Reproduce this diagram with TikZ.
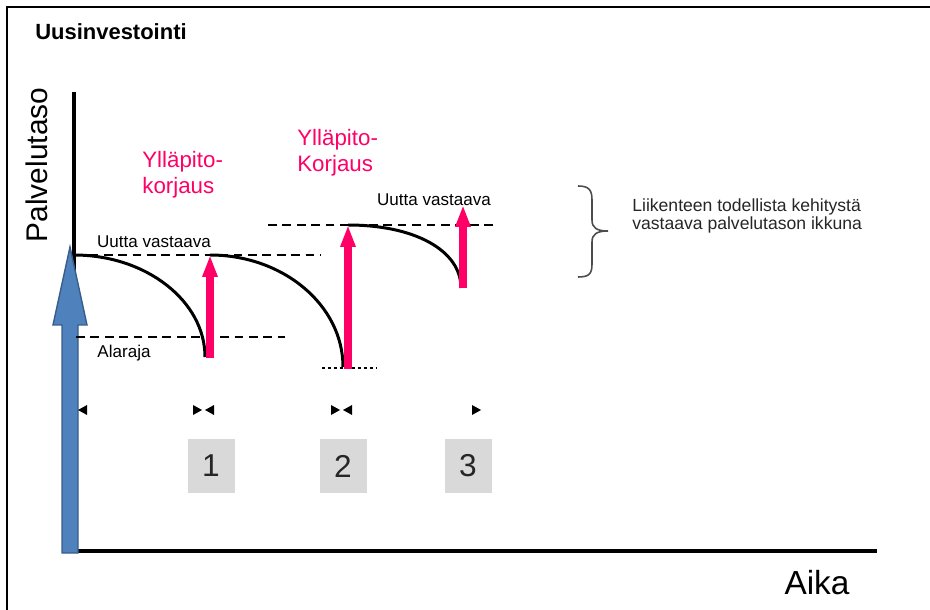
\documentclass[tikz,border=0pt]{standalone}
\usepackage{fontspec}
\setmainfont{Liberation Sans}
\usetikzlibrary{arrows.meta, positioning, calc}

\definecolor{korjaus}{RGB}{255,0,102}
\definecolor{investointi}{RGB}{79,129,189}
\definecolor{investointireuna}{RGB}{56,93,138}
\definecolor{laatikko}{RGB}{217,217,217}

\begin{document}
\begin{tikzpicture}[
        x=0.2mm, y=-0.2mm,
        % Tekstityylit
        otsikko/.style={font=\fontsize{12.5}{15}\selectfont\bfseries},
        akseliteksti/.style={font=\fontsize{19}{22}\selectfont},
        tasoteksti/.style={font=\fontsize{9.7}{11}\selectfont, inner sep=0pt},
        korjausteksti/.style={text=korjaus, align=left, inner sep=0pt, font=\fontsize{12.7}{14.7}\selectfont},
        selite/.style={align=left, inner sep=0pt, font=\fontsize{10}{10.5}\selectfont, text=black!85},
        numerolaatikko/.style={fill=laatikko, minimum width=9.4mm, minimum height=10.6mm, inner sep=0pt, font=\fontsize{18}{20}\selectfont, text=black!85},
        % Viivatyylit
        akseli/.style={line width=2.2pt},
        kayra/.style={line width=1.7pt},
        katko/.style={dash pattern=on 5pt off 3.2pt, line width=1.3pt},
        pisteet/.style={dash pattern=on 1.7pt off 1.7pt, line width=1.2pt},
        korjausnuoli/.style={draw=korjaus, line width=4.6pt, -{Triangle[length=12.5pt, width=8pt]}}
    ]

    \useasboundingbox (0,0) rectangle (930,610);

    % Kehys
    \draw[line width=1.5pt] (7,610) -- (7,7) -- (930,7);

    % Akselit
    \coordinate (ylin) at (74,92);
    \coordinate (origo) at (74,551);
    \coordinate (xloppu) at (877,551);
    \draw[akseli] (ylin) -- (origo);
    \draw[akseli, line width=2.4pt] (origo) -- (xloppu);

    % Uusinvestoinnin nuoli
    \filldraw[fill=investointi, draw=investointireuna, line width=0.8pt]
        (62,553) -- (62,325) -- (53,325) -- (70,247) -- (87,325) -- (78,325) -- (78,553) -- cycle;

    % Tekstit
    \node (uusi) [otsikko] at (111,32) {Uusinvestointi};
    \node (palvelu) [akseliteksti, font=\fontsize{17}{20}\selectfont, rotate=90] at (37,165) {Palvelutaso};
    \node (aika) [akseliteksti] at (817,583) {Aika};

    % Tasorajat
    \draw[katko] (75,255) -- (320,255);
    \draw[katko] (76,337) -- (285,337);
    \draw[katko] (268,225) -- (497,225);
    \draw[pisteet] (322,368) -- (376,368);

    \node (taso1) [tasoteksti] at (154,242) {Uutta vastaava};
    \node (ala) [tasoteksti] at (124,353) {Alaraja};
    \node (taso3) [tasoteksti] at (434,200) {Uutta vastaava};

    % Palvelutason heikkeneminen
    \coordinate (k1a) at (74,255);  \coordinate (k1b) at (205,357);
    \coordinate (k2a) at (210,255); \coordinate (k2b) at (343,367);
    \coordinate (k3a) at (348,225); \coordinate (k3b) at (461,288);
    \draw[kayra] (k1a) .. controls +(72,0) and +(0,-56) .. (k1b);
    \draw[kayra] (k2a) .. controls +(73,0) and +(0,-62) .. (k2b);
    \draw[kayra] (k3a) .. controls +(66,0) and +(0,-38) .. (k3b);

    % Korjausnuolet
    \coordinate (n1a) at (210,358); \coordinate (n1b) at (210,255);
    \coordinate (n2a) at (348,369); \coordinate (n2b) at (348,225);
    \coordinate (n3a) at (463,288); \coordinate (n3b) at (463,205);
    \draw[korjausnuoli] (n1a) -- (n1b);
    \draw[korjausnuoli] (n2a) -- (n2b);
    \draw[korjausnuoli] (n3a) -- (n3b);

    \node (yp1) [korjausteksti, anchor=north west] at (142,151) {Ylläpito-\\korjaus};
    \node (yp2) [korjausteksti, anchor=north west] at (297,129) {Ylläpito-\\Korjaus};

    % Aikavälien merkit
    \foreach \x/\s in {78/1, 202/-1, 205/1, 340/-1, 343/1, 481/-1}
        \fill (\x,410) -- ++(\s*9,-5) -- ++(0,10) -- cycle;

    \node (v1) [numerolaatikko] at (211,466) {1};
    \node (v2) [numerolaatikko] at (343,466) {2};
    \node (v3) [numerolaatikko] at (468,466) {3};

    % Ikkuna
    \draw[black!70, line width=0.9pt]
        (578,186) .. controls (589,186) and (592,190) .. (592,200) -- (592,220)
        .. controls (592,228) and (597,231) .. (608,231)
        .. controls (597,231) and (592,234) .. (592,242) -- (592,264)
        .. controls (592,274) and (589,277) .. (578,277);
    \node (ikkuna) [selite, anchor=north west] at (632,198) {Liikenteen todellista kehitystä\\vastaava palvelutason ikkuna};

\end{tikzpicture}
\end{document}
